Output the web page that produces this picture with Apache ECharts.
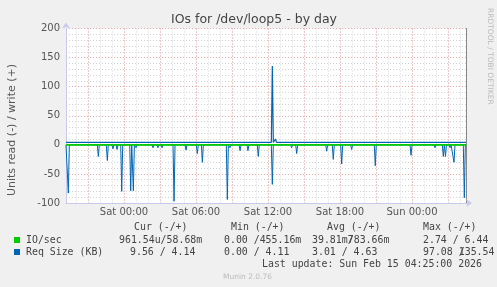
<!DOCTYPE html>
<html><head><meta charset="utf-8">
<script src="https://cdn.jsdelivr.net/npm/echarts@6/dist/echarts.min.js"></script>
<style>html,body{margin:0;padding:0;background:#f0f0f0}#c{width:497px;height:287px}</style>
</head><body><div id="c"></div>
<script>
// x values are hours relative to Sat 00:00
const xStart = -4.8333, xEnd = 28.5;
const xTickHours = [0, 6, 12, 18, 24];
const xTickLabels = ['Sat 00:00', 'Sat 06:00', 'Sat 12:00', 'Sat 18:00', 'Sun 00:00'];
const hourGrid = [-4,-3,-2,-1,0,1,2,3,4,5,6,7,8,9,10,11,12,13,14,15,16,17,18,19,20,21,22,23,24,25,26,27,28];
const majorGrid = [-3,0,3,6,9,12,15,18,21,24,27];

// Req Size (KB) read (negative) spikes
const readSpikeHours  = [-4.64,-2.14,-1.39,-0.92,-0.58,-0.19,0.56,0.78,1.0,2.42,2.83,3.17,4.17,5.17,6.11,6.53,8.61,8.83,9.67,10.33,11.19,12.36,13.97,14.39,16.06,16.89,17.44,18.14,18.97,20.94,23.92,24.39,25.92,26.61,26.79,27.17,27.5,28.36];
const readSpikeValues = [-83,-20,-27,-7,-8,-80,-79,-79,-5,-5,-5,-5,-97,-9,-15,-30,-94,-5,-10,-10,-20,-68,-5,-15,-3,-11,-25,-33,-8,-36,-18,-3,-5,-20,-20,-5,-30,-91];
// Req Size (KB) write (positive)
const writeBase = 4.1;
const writeSpikeHours  = [12.36, 12.62];
const writeSpikeValues = [135.5, 10];
// IO/sec
const ioWriteValue = 0.06;
const ioReadValue = -0.001;

// legend table
const legendHeaders = ['Cur (-/+)', 'Min (-/+)', 'Avg (-/+)', 'Max (-/+)'];
const legendIO  = ['IO/sec', '961.54u', '58.68m', '0.00', '455.16m', '39.81m', '783.66m', '2.74', '6.44'];
const legendReq = ['Req Size (KB)', '9.56', '4.14', '0.00', '4.11', '3.01', '4.63', '97.08', '135.54'];
const lastUpdate = 'Last update: Sun Feb 15 04:25:00 2026';
const muninVersion = 'Munin 2.0.76';

const step = 5 / 60;
function spikeSeries(base, hours, vals) {
  const pts = [[xStart, base]];
  for (let i = 0; i < hours.length; i++) {
    pts.push([hours[i] - step, base]);
    pts.push([hours[i], vals[i]]);
    if (hours[i] + step < xEnd) pts.push([hours[i] + step, base]);
  }
  if (pts[pts.length - 1][0] < xEnd) pts.push([xEnd, base]);
  return pts;
}

const GREEN = '#00cc00', BLUE = '#0066b3';
const gridGray = '#d4d4d4', gridRed = '#eaaaaa';
const MONO = 'DejaVu Sans Mono', SANS = 'DejaVu Sans';
const CW = 5.96; // mono cell width at 9.9px

const chart = echarts.init(document.getElementById('c'), null, {renderer: 'canvas'});
const hiddenX = (vals, color) => ({
  type: 'value', min: xStart, max: xEnd, position: 'bottom',
  axisLine: {show: false, onZero: false}, axisTick: {show: false, customValues: vals},
  axisLabel: {show: false}, splitLine: {show: true, lineStyle: {color: color, type: [1, 2], width: 1}}
});

function txt(t, x, y) {
  return {type: 'text', x: x, y: y,
    style: {text: t, fontFamily: MONO, fontSize: 9.9, fill: '#444', textAlign: 'left', textVerticalAlign: 'middle'}};
}
// "a/b" where the slash overlaps the first character of b
function overlapPair(a, b, x, y) {
  const xb = x + a.length * CW;
  return [txt(a, x, y), txt('/', xb, y), txt(b, xb, y)];
}

const headerX = [134, 231, 327, 423];
const legendGraphics = [];
legendHeaders.forEach((h, i) => legendGraphics.push(txt(h, headerX[i], 227)));
legendGraphics.push(txt(legendIO[0], 26, 240));
legendGraphics.push(txt(legendReq[0], 26, 252));
// IO/sec row
legendGraphics.push(txt(legendIO[1] + '/' + legendIO[2], 119, 240));
legendGraphics.push(txt(legendIO[3] + ' /' + legendIO[4], 224, 240));
legendGraphics.push(...overlapPair(legendIO[5], legendIO[6], 312, 240));
legendGraphics.push(txt(legendIO[7] + ' / ' + legendIO[8], 423, 240));
// Req Size row
legendGraphics.push(txt(legendReq[1] + ' / ' + legendReq[2], 130, 252));
legendGraphics.push(txt(legendReq[3] + ' / ' + legendReq[4], 224, 252));
legendGraphics.push(txt(legendReq[5] + ' / ' + legendReq[6], 312, 252));
legendGraphics.push(...overlapPair(legendReq[7] + ' ', legendReq[8], 423, 252));
legendGraphics.push(txt(lastUpdate, 262, 264));

chart.setOption({
  animation: false,
  backgroundColor: '#f0f0f0',
  grid: {left: 66, right: 31, top: 28.5, bottom: 84, show: true, backgroundColor: '#ffffff', borderWidth: 0},
  title: {text: 'IOs for /dev/loop5 - by day', left: 249, top: 8, textAlign: 'center',
    textStyle: {fontFamily: SANS, fontSize: 12.5, fontWeight: 'normal', color: '#444'}},
  xAxis: [
    hiddenX(hourGrid, gridGray),
    hiddenX(majorGrid, gridRed),
    {
      type: 'value', min: xStart, max: xEnd, position: 'bottom',
      axisLine: {show: true, onZero: false, lineStyle: {color: '#c9c9ee', width: 1}, symbol: ['none', 'arrow'], symbolSize: [6, 6], symbolOffset: [0, 6]},
      axisTick: {show: false, customValues: xTickHours},
      axisLabel: {customValues: xTickHours, margin: 4, fontFamily: SANS, fontSize: 10, color: '#555',
        formatter: v => xTickLabels[xTickHours.indexOf(Math.round(v))]},
      splitLine: {show: false}
    }
  ],
  yAxis: [{
    type: 'value', min: -100, max: 200, interval: 50,
    axisLine: {show: true, onZero: false, lineStyle: {color: '#c9c9ee', width: 1}, symbol: ['none', 'arrow'], symbolSize: [6, 6], symbolOffset: [0, 6]},
    axisTick: {show: false},
    axisLabel: {margin: 6, fontFamily: SANS, fontSize: 10, color: '#555'},
    splitLine: {show: true, lineStyle: {color: gridRed, type: [1, 2], width: 1}},
    minorTick: {show: false, splitNumber: 5},
    minorSplitLine: {show: true, lineStyle: {color: gridGray, type: [1, 2], width: 1}}
  }, {
    type: 'value', min: -100, max: 200, position: 'right',
    axisLine: {show: true, onZero: false, lineStyle: {color: '#888', width: 1}},
    axisTick: {show: false}, axisLabel: {show: false}, splitLine: {show: false}
  }],
  series: [
    {type: 'line', xAxisIndex: 2, yAxisIndex: 0, data: spikeSeries(0, readSpikeHours, readSpikeValues),
      showSymbol: false, lineStyle: {color: BLUE, width: 1}, z: 3},
    {type: 'line', xAxisIndex: 2, yAxisIndex: 0, data: spikeSeries(writeBase, writeSpikeHours, writeSpikeValues),
      showSymbol: false, lineStyle: {color: BLUE, width: 1.2}, z: 3},
    {type: 'line', xAxisIndex: 2, yAxisIndex: 0, data: [[xStart, ioReadValue], [xEnd, ioReadValue]],
      showSymbol: false, lineStyle: {color: GREEN, width: 1.5}, z: 4},
    {type: 'line', xAxisIndex: 2, yAxisIndex: 0, data: [[xStart, ioWriteValue], [xEnd, ioWriteValue]],
      showSymbol: false, lineStyle: {color: GREEN, width: 1.5}, z: 4}
  ],
  graphic: [
    {type: 'text', x: 12, y: 130, rotation: Math.PI / 2,
      style: {text: 'Units read (-) / write (+)', fontFamily: SANS, fontSize: 11, fill: '#555', textAlign: 'center', textVerticalAlign: 'middle'}},
    {type: 'text', x: 490, y: 8, rotation: -Math.PI / 2,
      style: {text: 'RRDTOOL / TOBI OETIKER', fontFamily: SANS, fontSize: 7.5, fill: '#bbbbbb', textAlign: 'left', textVerticalAlign: 'middle'}},
    {type: 'rect', shape: {x: 14, y: 237, width: 6, height: 6}, style: {fill: GREEN}},
    {type: 'rect', shape: {x: 14, y: 249, width: 6, height: 6}, style: {fill: BLUE}},
    ...legendGraphics,
    {type: 'text', x: 223, y: 277, style: {text: muninVersion, fontFamily: SANS, fontSize: 7.5, fill: '#bbbbbb', textAlign: 'left', textVerticalAlign: 'middle'}}
  ]
});
</script>
</body></html>
